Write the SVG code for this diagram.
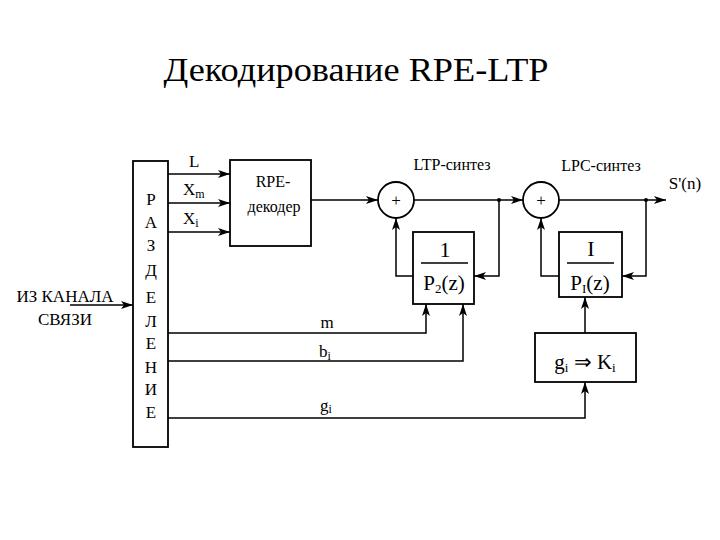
<svg xmlns="http://www.w3.org/2000/svg" width="720" height="540" viewBox="0 0 720 540">
<defs>
<marker id="ah" viewBox="0 0 12 8" refX="12" refY="4" markerWidth="12" markerHeight="8" markerUnits="userSpaceOnUse" orient="auto">
<path d="M0,0 L12,4 L0,8 L3,4 Z" fill="#000"/>
</marker>
</defs>
<rect width="720" height="540" fill="#fff"/>
<text font-family="Liberation Serif" x="356" y="81" font-size="34" text-anchor="middle" textLength="385" lengthAdjust="spacingAndGlyphs">Декодирование  RPE-LTP</text>

<g id="connectors" fill="none" stroke="#000" stroke-width="1.5" marker-end="url(#ah)">
<path d="M70,305 H133"/>
<path d="M168,174 H230"/>
<path d="M168,203 H230"/>
<path d="M168,232 H230"/>
<path d="M311,200 H378"/>
<path d="M414,200 H523"/>
<path d="M499,200 V276 H474"/>
<path d="M413,276 H396 V218"/>
<path d="M559,200 H666"/>
<path d="M646,200 V276 H622"/>
<path d="M559,276 H541 V218"/>
<path d="M168,333 H426 V304"/>
<path d="M168,361 H463 V304"/>
<path d="M168,418 H585 V382"/>
<path d="M585,333 V297"/>
</g>
<circle cx="499" cy="200" r="2" fill="#000"/>
<circle cx="646" cy="200" r="2" fill="#000"/>

<g id="input-label" font-family="Liberation Serif" font-size="17" text-anchor="middle">
<text x="65" y="302">ИЗ КАНАЛА</text>
<text x="65" y="325">СВЯЗИ</text>
</g>

<g id="demux">
<rect x="133" y="161" width="35" height="286" fill="#fff" stroke="#000" stroke-width="1.8"/>
<g font-family="Liberation Serif" font-size="17" text-anchor="middle">
<text x="151" y="205">Р</text>
<text x="151" y="228">А</text>
<text x="151" y="251">З</text>
<text x="151" y="276">Д</text>
<text x="151" y="303">Е</text>
<text x="151" y="327">Л</text>
<text x="151" y="349">Е</text>
<text x="151" y="373">Н</text>
<text x="151" y="395">И</text>
<text x="151" y="418">Е</text>
</g>
</g>

<g id="signal-labels" font-family="Liberation Serif" font-size="17">
<text x="189" y="167">L</text>
<text x="183" y="195">X<tspan font-size="12" dy="3">m</tspan></text>
<text x="183" y="224">X<tspan font-size="12" dy="3">i</tspan></text>
<text x="327" y="328" text-anchor="middle">m</text>
<text x="319" y="357">b<tspan font-size="12" dy="3">i</tspan></text>
<text x="320" y="411">g<tspan font-size="12" dy="2">i</tspan></text>
</g>

<g id="rpe-decoder">
<rect x="230" y="160" width="81" height="86" fill="#fff" stroke="#000" stroke-width="1.8"/>
<text font-family="Liberation Serif" font-size="16" x="273" y="187" text-anchor="middle">RPE-</text>
<text font-family="Liberation Serif" font-size="16" x="274" y="212" text-anchor="middle">декодер</text>
</g>

<g id="ltp-adder">
<circle cx="396" cy="200" r="18" fill="#fff" stroke="#000" stroke-width="1.8"/>
<text font-family="Liberation Serif" font-size="17" x="396" y="206" text-anchor="middle">+</text>
<text font-family="Liberation Serif" font-size="16" x="452" y="170" text-anchor="middle">LTP-синтез</text>
</g>

<g id="ltp-filter">
<rect x="413" y="232" width="61" height="72" fill="#fff" stroke="#000" stroke-width="1.8"/>
<text font-family="Liberation Serif" font-size="22" x="445" y="257" text-anchor="middle">1</text>
<path d="M421,263 H468" stroke="#000" stroke-width="1.5"/>
<text font-family="Liberation Serif" font-size="21" x="444" y="290" text-anchor="middle">P<tspan font-size="13" dy="3">2</tspan><tspan dy="-3">(z)</tspan></text>
</g>

<g id="lpc-adder">
<circle cx="541" cy="200" r="18" fill="#fff" stroke="#000" stroke-width="1.8"/>
<text font-family="Liberation Serif" font-size="17" x="541" y="206" text-anchor="middle">+</text>
<text font-family="Liberation Serif" font-size="16" x="601" y="171" text-anchor="middle">LPC-синтез</text>
<text font-family="Liberation Serif" font-size="17" x="685" y="189" text-anchor="middle">S'(n)</text>
</g>

<g id="lpc-filter">
<rect x="559" y="232" width="63" height="65" fill="#fff" stroke="#000" stroke-width="1.8"/>
<text font-family="Liberation Serif" font-size="22" x="591" y="256" text-anchor="middle">I</text>
<path d="M567,263 H614" stroke="#000" stroke-width="1.5"/>
<text font-family="Liberation Serif" font-size="21" x="590" y="290" text-anchor="middle">P<tspan font-size="13" dy="3">I</tspan><tspan dy="-3">(z)</tspan></text>
</g>

<g id="g-to-k">
<rect x="535" y="333" width="101" height="49" fill="#fff" stroke="#000" stroke-width="1.8"/>
<text font-family="Liberation Serif" font-size="21" x="585" y="369" text-anchor="middle">g<tspan font-size="13" dy="3">i</tspan><tspan dy="-3"> ⇒ K</tspan><tspan font-size="13" dy="3">i</tspan></text>
</g>
</svg>
